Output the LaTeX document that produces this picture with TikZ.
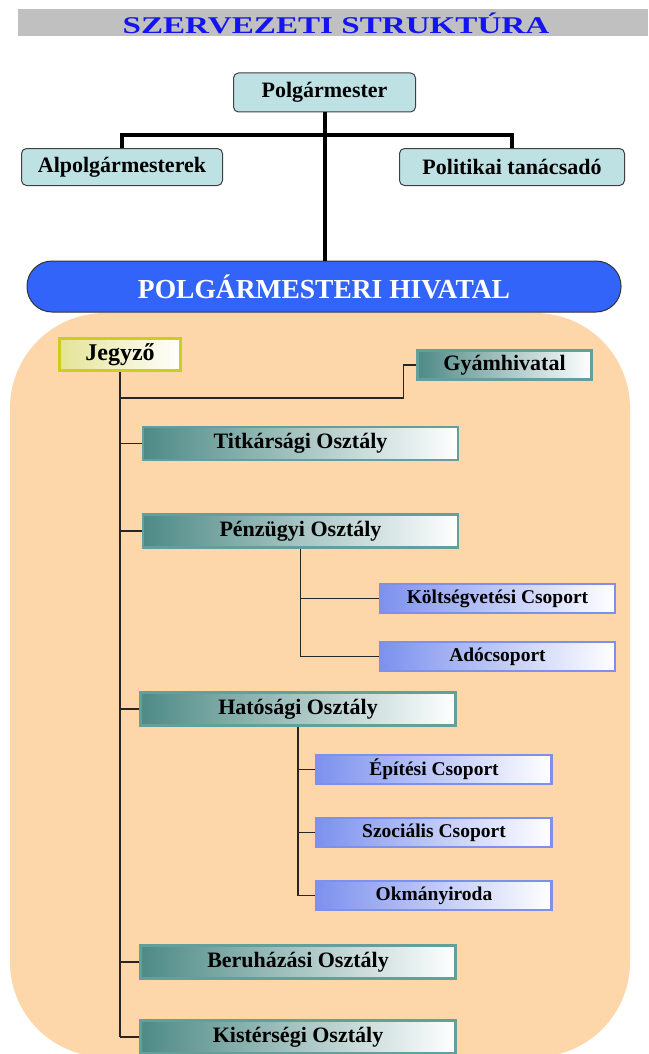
\documentclass[tikz,border=0pt]{standalone}
\usepackage{fontspec}
\setmainfont{Liberation Serif}
\usepackage{graphicx}
\usepackage{tikz}
\definecolor{cimszurke}{RGB}{192,192,192}
\definecolor{cimkek}{RGB}{20,20,240}
\definecolor{felsokitoltes}{RGB}{190,226,228}
\definecolor{hivkek}{RGB}{50,100,250}
\definecolor{barack}{RGB}{253,214,170}
\definecolor{tealszel}{RGB}{100,160,155}
\definecolor{tealtolt}{RGB}{78,138,134}
\definecolor{kekszel}{RGB}{125,145,235}
\definecolor{kektolt}{RGB}{125,145,238}
\definecolor{sargaszel}{RGB}{205,205,30}
\definecolor{sargatolt}{RGB}{228,228,150}
\tikzset{
  felso/.style={draw=black!75, fill=felsokitoltes, rounded corners=5pt, line width=1pt,
    inner sep=0pt, minimum height=39pt,
    font=\bfseries\fontsize{22}{24}\selectfont},
  osztaly/.style={draw=tealszel, line width=2.5pt, left color=tealtolt, right color=white,
    inner sep=0pt, minimum width=315pt, minimum height=33pt,
    font=\bfseries\fontsize{22}{24}\selectfont},
  csoport/.style={draw=kekszel, line width=2.5pt, left color=kektolt, right color=white,
    inner sep=0pt, minimum width=235pt, minimum height=29pt,
    font=\bfseries\fontsize{19.5}{21}\selectfont},
  vonal/.style={line width=1.2pt, black!85}
}
\begin{document}
\begin{tikzpicture}[x=1pt,y=-1pt]
      \useasboundingbox (0,0) rectangle (648,1054);
      \fill[cimszurke] (18,9) rectangle (648,36);
      \node (cim) at (336,23) [text=cimkek, font=\bfseries\fontsize{24}{26}\selectfont]
        {\scalebox{1.38}[1]{SZERVEZETI STRUKTÚRA}};
      \fill[barack, rounded corners=95pt] (10,313) rectangle (630,1057);
      % felso vezetes
      \node (pm) at (324.5,92.5) [felso, minimum width=182pt] {Polgármester};
      \node (alp) at (122,167) [felso, minimum width=201pt, minimum height=37pt] {Alpolgármesterek};
      \node (pta) at (512,167) [felso, minimum width=225pt, minimum height=37pt] {Politikai tanácsadó};
      \node (hiv) at (324,286.5) [draw=black!80, line width=1pt, fill=hivkek, rounded corners=25pt,
        minimum width=594pt, minimum height=51pt, inner sep=0pt, text=white,
        font=\bfseries\fontsize{27.5}{29}\selectfont] {POLGÁRMESTERI HIVATAL};
      \draw[line width=4pt]
      (pm.south) to (pm.south |- hiv.north)
      (alp.north) to (alp.north |- 0,135) -| (pta.north);
      % hivatal
      \node (jeg) at (120,354.5) [draw=sargaszel, line width=3pt, left color=sargatolt, right color=white,
        inner sep=0pt, minimum width=121pt, minimum height=32pt,
        font=\bfseries\fontsize{24}{26}\selectfont] {Jegyző};
      \node (gyam) at (504.5,365) [osztaly, minimum width=174pt, minimum height=29pt] {Gyámhivatal};
      \node (titk) at (300.5,443.5) [osztaly] {Titkársági Osztály};
      \node (penz) at (300.5,531) [osztaly] {Pénzügyi Osztály};
      \node (kolt) at (497.5,598.5) [csoport] {Költségvetési Csoport};
      \node (ado) at (497.5,656.5) [csoport] {Adócsoport};
      \node (hat) at (298,709) [osztaly] {Hatósági Osztály};
      \node (epit) at (434,769.5) [csoport] {Építési Csoport};
      \node (szoc) at (434,832.5) [csoport] {Szociális Csoport};
      \node (okm) at (434,895.5) [csoport] {Okmányiroda};
      \node (beru) at (298,962) [osztaly] {Beruházási Osztály};
      \node (kist) at (298,1037) [osztaly] {Kistérségi Osztály};
      \coordinate (gyj) at (121,398);
      \draw[vonal]
      (jeg.south) to (jeg.south |- kist.west)
      (gyam.west) to ++(-13,0) |- (gyj)
      (penz.south) |- (ado.west)
      (kolt.west) to (kolt.west -| penz.south)
      (hat.south) |- (okm.west);
      \foreach \n in {titk,penz,hat,beru,kist}
        \draw[vonal] (\n.west) to (\n.west -| jeg.south);
      \foreach \n in {epit,szoc}
        \draw[vonal] (\n.west) to (\n.west -| hat.south);
    \end{tikzpicture}
\end{document}
